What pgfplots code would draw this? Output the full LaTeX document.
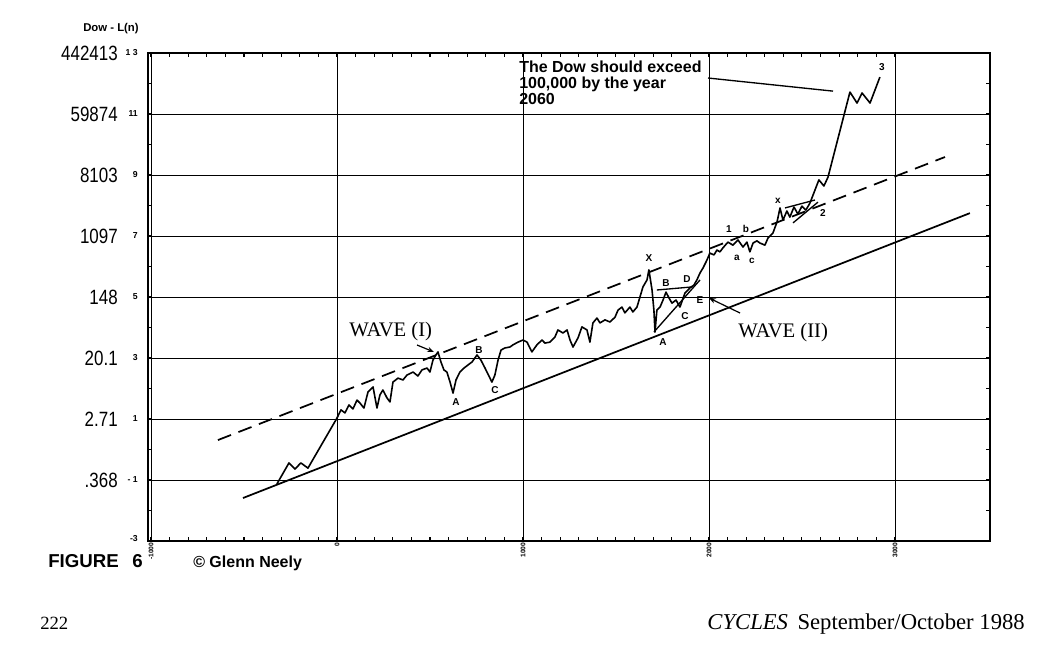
\documentclass[border=0pt]{standalone}
\usepackage{fontspec}
\setmainfont{Liberation Serif}
\setsansfont{Liberation Sans}
\usepackage{graphicx}
\usepackage{pgfplots}
\usepackage{pgfplotstable}
\pgfplotsset{compat=1.18}
\usetikzlibrary{arrows.meta}

\newcommand\outl[1]{{\fontsize{15.5}{16}\sffamily\selectfont\scalebox{0.82}[1]{#1}}}
\newcommand\inl[1]{\raisebox{3.2pt}{\fontsize{6.5}{7}\sffamily\bfseries\selectfont #1}}
\newcommand\yl[2]{\makebox[50pt][r]{\outl{#1}}\hspace{3pt}\makebox[12pt][r]{\inl{#2}}}

\pgfplotstableread{
x y
-323 -1.13
-258 -0.44
-226 -0.64
-194 -0.44
-156 -0.61
0 1.03
21.5 1.30
43 1.20
64.5 1.46
86 1.33
107.5 1.62
124 1.52
145 1.36
167 1.89
194 2.05
215 1.36
231 1.79
247 1.95
269 1.69
285 1.56
301 2.21
328 2.34
355 2.28
376 2.44
409 2.54
435 2.41
457 2.61
484 2.67
500 2.54
516 2.93
532 3.10
543 3.20
559 2.87
575 2.61
591 2.54
608 2.21
624 1.85
640 2.28
661 2.54
683 2.67
704 2.77
726 2.87
753 3.10
774 2.93
796 2.67
817 2.41
833 2.21
849 2.44
866 2.93
882 3.26
903 3.33
930 3.36
946 3.43
973 3.52
1000 3.59
1022 3.52
1048 3.20
1075 3.43
1102 3.59
1118 3.49
1145 3.52
1172 3.69
1188 3.92
1215 3.82
1237 3.92
1253 3.59
1269 3.36
1296 3.66
1317 4.02
1344 3.92
1360 3.52
1376 4.15
1398 4.31
1414 4.15
1441 4.25
1468 4.18
1495 4.34
1511 4.57
1532 4.67
1548 4.48
1575 4.67
1591 4.51
1613 4.67
1629 5.00
1645 5.33
1667 5.56
1677 5.89
1694 5.23
1704 4.57
1710 3.85
1720 4.57
1737 4.67
1753 4.90
1769 5.16
1785 4.97
1801 4.80
1823 4.90
1844 4.67
1871 5.13
1898 5.30
1919 5.39
1935 5.56
1952 5.79
1968 5.95
1989 6.21
2005 6.44
2027 6.38
2043 6.54
2059 6.48
2075 6.61
2102 6.80
2129 6.70
2156 6.87
2183 6.64
2204 6.80
2220 6.48
2237 6.77
2258 6.84
2274 6.77
2301 6.70
2317 6.93
2344 7.10
2366 7.46
2382 7.92
2398 7.52
2419 7.82
2435 7.62
2457 7.95
2478 7.72
2500 7.98
2521 7.85
2543 8.08
2591 8.84
2618 8.64
2640 8.93
2758 11.72
2796 11.36
2823 11.69
2866 11.36
2919 12.21
}\dow

\begin{document}
\begin{tikzpicture}
\useasboundingbox (0,0) rectangle (787.5pt,-501pt);
\begin{axis}[
  at={(111pt,-405.75pt)}, anchor=south west,
  scale only axis, width=631.5pt, height=366pt,
  xmin=-1016, xmax=3511, ymin=-3, ymax=13,
  axis line style={line width=1.1pt},
  xtick={-1000,0,1000,2000,3000},
  xticklabels={-1000,0,1000,2000,3000},
  minor x tick num=9,
  ytick={-3,-1,1,3,5,7,9,11,13},
  yticklabels={\yl{}{-3},\yl{.368}{- 1},\yl{2.71}{1},\yl{20.1}{3},\yl{148}{5},\yl{1097}{7},\yl{8103}{9},\yl{59874}{11},\yl{442413}{1 3}},
  minor y tick num=1,
  tick align=inside,
  major tick length=3pt, minor tick length=3pt,
  tick style={black, line width=0.8pt},
  xmajorgrids, ymajorgrids,
  major grid style={black, line width=0.6pt},
  yticklabel style={anchor=east, inner sep=0pt, xshift=-7.5pt},
  xticklabel style={rotate=90, anchor=east, inner sep=1pt, font=\fontsize{5}{5}\sffamily\bfseries\selectfont},
  clip=false,
]
% channel lines
\addplot[black, line width=1.3pt] coordinates {(-505,-1.59) (3403,7.75)};
\addplot[black, line width=1.3pt, dash pattern=on 10.5pt off 6pt] coordinates {(-640,0.31) (3269,9.59)};
% Dow series
\addplot[black, line width=1.2pt, line join=round] table {\dow};
% triangle boundaries
\addplot[black, line width=1pt] coordinates {(1704,3.85) (1952,5.56)};
\addplot[black, line width=1pt] coordinates {(1720,5.23) (1909,5.33)};
\addplot[black, line width=1pt] coordinates {(2409,7.92) (2570,8.18)};
\addplot[black, line width=1pt] coordinates {(2452,7.43) (2586,8.11)};
% annotation pointer
\addplot[black, line width=1pt] coordinates {(1995,12.18) (2667,11.75)};
\end{axis}
\begin{scope}[x=0.75pt,y=-0.75pt]
\node[font=\fontsize{8.5}{9}\sffamily\bfseries\selectfont, inner sep=0pt] at (111,29) {Dow - L(n)};
% annotation text
\begin{scope}[every node/.style={anchor=base west, inner sep=0pt, font=\fontsize{12}{13}\sffamily\bfseries\selectfont}]
\node at (519,72) {The Dow should exceed};
\node at (519,88) {100,000 by the year};
\node at (519,104) {2060};
\end{scope}
% wave labels
\node[anchor=base west, inner sep=0pt, font=\fontsize{15.5}{16}\selectfont] at (349,336) {WAVE (I)};
\node[anchor=base west, inner sep=0pt, font=\fontsize{15.5}{16}\selectfont] at (738,337) {WAVE (II)};
\draw[line width=0.9pt, -{Stealth[length=5pt,width=4pt]}] (417,345) -- (434,352);
\draw[line width=0.9pt, -{Stealth[length=5pt,width=4pt]}] (740,313) -- (709,298);
% letters
\begin{scope}[every node/.style={inner sep=0pt, font=\fontsize{7.5}{8}\sffamily\bfseries\selectfont}]
\node at (456,402) {A};
\node at (479,350) {B};
\node at (495,390) {C};
\node at (649,258) {X};
\node at (663,342) {A};
\node at (666,283) {B};
\node at (685,316) {C};
\node at (687,279) {D};
\node at (700,300) {E};
\node at (729,229) {1};
\node at (746,229) {b};
\node at (737,258) {a};
\node at (752,261) {c};
\node at (778,201) {x};
\node at (823,213) {2};
\node at (882,67) {3};
\end{scope}
% figure caption
\node[anchor=base west, inner sep=0pt, font=\fontsize{14}{15}\sffamily\bfseries\selectfont] at (48,567) {FIGURE};
\node[anchor=base west, inner sep=0pt, font=\fontsize{14}{15}\sffamily\bfseries\selectfont] at (132,567) {6};
\node[anchor=base west, inner sep=0pt, font=\fontsize{12}{13}\sffamily\bfseries\selectfont] at (193,567) {\textcopyright{} Glenn Neely};
% footer
\node[anchor=base west, inner sep=0pt, font=\fontsize{14}{15}\selectfont] at (40,629) {222};
\node[anchor=base east, inner sep=0pt, font=\fontsize{17}{18}\selectfont] at (1025,629) {\textit{CYCLES}\, September/October 1988};
\end{scope}
\end{tikzpicture}
\end{document}
